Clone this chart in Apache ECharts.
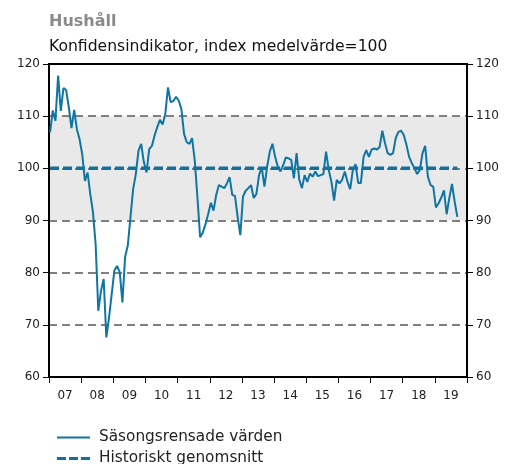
<!DOCTYPE html>
<html><head><meta charset="utf-8">
<script src="https://cdn.jsdelivr.net/npm/echarts@6/dist/echarts.min.js"></script>
<style>html,body{margin:0;padding:0;background:#fff}#c{width:508px;height:464px}</style>
</head><body><div id="c"></div>
<script>
// Monthly values, Jan 2007 – Sep 2019
const values2007 = [106.9,111.1,109.1,117.8,111.0,115.4,115.0,111.7,107.7,111.2,107.5,105.6];
const values2008 = [102.7,97.6,99.2,95.1,91.6,85.5,72.7,76.5,78.8,67.6,71.4,75.9];
const values2009 = [80.4,81.3,80.1,74.3,83.0,85.2,90.6,96.0,98.9,103.4,104.7,101.2];
const values2010 = [99.2,103.7,104.3,106.3,107.9,109.3,108.4,110.4,115.5,112.7,112.9,113.7];
const values2011 = [113.0,111.4,106.6,105.0,104.7,105.8,101.5,94.4,86.8,87.7,89.3,91.2];
const values2012 = [93.4,91.9,94.9,96.8,96.5,96.2,97.1,98.3,94.9,94.7,90.7,87.2];
const values2013 = [94.6,95.7,96.2,96.8,94.3,95.1,98.7,100.2,96.5,100.3,103.2,104.7];
const values2014 = [102.2,100.3,99.4,100.6,102.1,101.9,101.6,98.1,102.9,97.8,96.2,98.7];
const values2015 = [97.4,99.0,98.4,99.4,98.5,98.7,98.9,103.2,99.7,97.4,93.8,97.8];
const values2016 = [97.1,97.8,99.4,97.4,96.0,99.7,100.8,97.2,97.2,102.2,103.5,102.2];
const values2017 = [103.6,103.8,103.6,104.1,107.2,104.8,102.9,102.6,102.9,105.8,107.0,107.2];
const values2018 = [106.4,104.5,102.2,101.0,100.0,98.9,99.7,102.9,104.3,98.4,96.8,96.5];
const values2019 = [92.5,93.3,94.4,95.8,91.2,94.3,97.0,93.6,90.7];
const yearLabels = ['07','08','09','10','11','12','13','14','15','16','17','18','19'];
const yTicks = [60,70,80,90,100,110,120];
const histAvg = 100;
const seriesNames = ['Säsongsrensade värden','Historiskt genomsnitt'];

const values = [].concat(values2007,values2008,values2009,values2010,values2011,values2012,
  values2013,values2014,values2015,values2016,values2017,values2018,values2019);
const off = 0.4;
const mainData = values.map((v,i)=>[i+off, v]);
const avgData = values.map((v,i)=>[i+off, histAvg]);
const FONT = 'DejaVu Sans';
const BLUE = '#0f75a3';
const chart = echarts.init(document.getElementById('c'), null, {renderer:'canvas'});
const yCommon = {
  type:'value', min:yTicks[0], max:yTicks[yTicks.length-1], interval:10,
  axisLine:{show:true, lineStyle:{color:'#000', width:2}},
  axisTick:{show:true, length:6, lineStyle:{color:'#000', width:1}},
  axisLabel:{fontFamily:FONT, fontSize:12, color:'#222', margin:9}
};
const legendCommon = {orient:'horizontal', left:57, itemWidth:33,
  textStyle:{fontFamily:FONT, fontSize:15.3, color:'#222', padding:[0,0,0,4]}, padding:0, itemGap:8};
chart.setOption({
  animation:false,
  title:[
    {text:'Hushåll', left:49, top:14, padding:0, textStyle:{fontFamily:FONT, fontSize:16, fontWeight:'bold', color:'#8a8a8a'}},
    {text:'Konfidensindikator, index medelvärde=100', left:49, top:39, padding:0, textStyle:{fontFamily:FONT, fontSize:15.6, fontWeight:'normal', color:'#111'}}
  ],
  grid:{left:49, right:41, top:64, bottom:87, show:true, borderColor:'#000', borderWidth:2, backgroundColor:'transparent'},
  legend:[
    Object.assign({}, legendCommon, {top:430, data:[{name:seriesNames[0], icon:'path://M0,0h33v2h-33z', itemStyle:{color:BLUE}}], itemHeight:2}),
    Object.assign({}, legendCommon, {top:451, data:[{name:seriesNames[1], icon:'path://M0,0h9v3h-9zM12,0h9v3h-9zM24,0h9v3h-9z', itemStyle:{color:'#13709c'}}], itemHeight:3})
  ],
  xAxis:[
    {type:'value', min:0, max:yearLabels.length*12, interval:12, position:'bottom',
     axisLine:{show:true, lineStyle:{color:'#000', width:2}},
     axisTick:{show:true, length:6, lineStyle:{color:'#000', width:1}},
     axisLabel:{show:false}, splitLine:{show:false}},
    {type:'category', data:yearLabels, position:'bottom', boundaryGap:true,
     axisLine:{show:false}, axisTick:{show:false},
     axisLabel:{fontFamily:FONT, fontSize:12, color:'#222', margin:13}}
  ],
  yAxis:[
    Object.assign({}, yCommon, {position:'left',
      splitLine:{show:true, showMinLine:false, showMaxLine:false, lineStyle:{color:'#808080', width:2, type:[8,5]}},
      splitArea:{show:true, areaStyle:{color:['rgba(0,0,0,0)','rgba(0,0,0,0)','rgba(0,0,0,0)','#e9e9e9','#e9e9e9','rgba(0,0,0,0)']}}}),
    Object.assign({}, yCommon, {position:'right', splitLine:{show:false}})
  ],
  series:[
    {name:seriesNames[1], type:'line', xAxisIndex:0, yAxisIndex:0, data:avgData, symbol:'none',
     lineStyle:{color:'#13709c', width:3.5, type:[9,4]}, itemStyle:{color:'#13709c'}, z:2},
    {name:seriesNames[0], type:'line', xAxisIndex:0, yAxisIndex:0, data:mainData, symbol:'none',
     lineStyle:{color:BLUE, width:2}, itemStyle:{color:BLUE}, z:3}
  ]
});
</script></body></html>
